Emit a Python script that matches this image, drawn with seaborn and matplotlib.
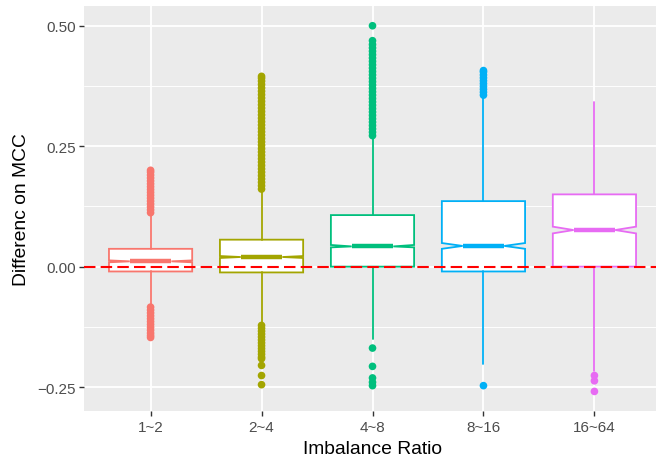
import matplotlib
matplotlib.use("Agg")
import matplotlib.pyplot as plt
import seaborn as sns
import pandas as pd

# categories and colours (ggplot default hue palette)
groups = ["1~2", "2~4", "4~8", "8~16", "16~64"]
colors = ["#F8766D", "#A3A500", "#00BF7D", "#00B0F6", "#E76BF3"]

# box statistics
q1 = [-0.010, -0.012, 0.000, -0.010, 0.000]
med = [0.011, 0.020, 0.042, 0.043, 0.076]
q3 = [0.037, 0.056, 0.107, 0.136, 0.150]
whis_lo = [-0.082, -0.120, -0.150, -0.202, -0.216]
whis_hi = [0.110, 0.160, 0.270, 0.354, 0.341]
notch_lo = [0.009, 0.018, 0.040, 0.037, 0.069]
notch_hi = [0.013, 0.022, 0.045, 0.049, 0.083]

# outliers per group
out_1_2 = [0.112, 0.118, 0.124, 0.130, 0.136, 0.142, 0.148, 0.154, 0.160, 0.166,
           0.172, 0.178, 0.184, 0.190, 0.196, 0.200,
           -0.084, -0.090, -0.096, -0.102, -0.108, -0.114, -0.120, -0.126,
           -0.132, -0.138, -0.143, -0.147]
out_2_4 = [0.161, 0.168, 0.175, 0.182, 0.189, 0.196, 0.203, 0.210, 0.217, 0.224,
           0.231, 0.238, 0.245, 0.252, 0.259, 0.266, 0.273, 0.280, 0.287, 0.294,
           0.301, 0.308, 0.315, 0.322, 0.329, 0.336, 0.343, 0.350, 0.357, 0.364,
           0.371, 0.378, 0.385, 0.391, 0.395,
           -0.122, -0.128, -0.134, -0.140, -0.146, -0.152, -0.158, -0.164,
           -0.170, -0.176, -0.182, -0.188, -0.191, -0.205, -0.226, -0.245]
out_4_8 = [0.272, 0.279, 0.286, 0.293, 0.300, 0.307, 0.314, 0.321, 0.328, 0.335,
           0.342, 0.349, 0.356, 0.363, 0.370, 0.377, 0.384, 0.391, 0.398, 0.405,
           0.412, 0.419, 0.426, 0.433, 0.440, 0.447, 0.454, 0.461, 0.469, 0.500,
           -0.169, -0.207, -0.231, -0.240, -0.247]
out_8_16 = [0.356, 0.362, 0.368, 0.374, 0.380, 0.386, 0.392, 0.398, 0.404, 0.407,
            -0.247]
out_16_64 = [-0.226, -0.237, -0.259]

outlier_lists = [out_1_2, out_2_4, out_4_8, out_8_16, out_16_64]
df = pd.DataFrame({
    "group": [g for g, vals in zip(groups, outlier_lists) for _ in vals],
    "value": [v for vals in outlier_lists for v in vals],
})

sns.set_theme(style="darkgrid", rc={
    "axes.facecolor": "#EBEBEB",
    "grid.color": "white",
    "axes.edgecolor": "none",
})
plt.rcParams["font.family"] = ["Liberation Sans", "DejaVu Sans"]

fig = plt.figure(figsize=(6.56, 4.6), dpi=100)
ax = fig.add_axes([84 / 656, 48.3 / 460, 577 / 656, 404.7 / 460])

sns.stripplot(data=df, x="group", y="value", hue="group", order=groups,
              hue_order=groups, palette=colors, jitter=False, size=5.5,
              linewidth=0, legend=False, ax=ax, zorder=3)

for i, c in enumerate(colors):
    stats = [{
        "med": med[i], "q1": q1[i], "q3": q3[i],
        "whislo": whis_lo[i], "whishi": whis_hi[i],
        "cilo": notch_lo[i], "cihi": notch_hi[i], "fliers": [],
    }]
    ax.bxp(stats, positions=[i], widths=0.75, shownotches=True, showcaps=False,
           showfliers=False, patch_artist=True, manage_ticks=False,
           boxprops=dict(facecolor="white", edgecolor=c, linewidth=1.3),
           whiskerprops=dict(color=c, linewidth=1.3),
           medianprops=dict(color=c, linewidth=3.2, solid_capstyle="butt"),
           zorder=4)

ax.axhline(0, color="red", linewidth=1.5, linestyle=(0, (5.5, 2.5)), zorder=6)

ax.set_xlim(-0.6, 4.6)
ax.set_ylim(-0.299, 0.541)
ax.set_xticks(range(len(groups)))
ax.set_xticklabels(groups)
ax.set_yticks([-0.25, 0.0, 0.25, 0.5])
ax.set_yticklabels(["\u22120.25", "0.00", "0.25", "0.50"])
ax.set_yticks([-0.125, 0.125, 0.375], minor=True)

ax.grid(True, which="major", color="white", linewidth=1.3)
ax.grid(True, which="minor", axis="y", color="white", linewidth=0.65)
ax.set_axisbelow(True)
for s in ax.spines.values():
    s.set_visible(False)

ax.tick_params(axis="both", which="major", length=3.5, width=1.0, color="#333333",
               labelcolor="#4D4D4D", labelsize=11, pad=2.5, bottom=True, left=True)
ax.tick_params(axis="x", which="major", pad=3.5)
ax.tick_params(axis="y", which="minor", length=0, left=False)

ax.set_xlabel("Imbalance Ratio", fontsize=13.9, color="black", labelpad=4)
ax.set_ylabel("Differenc on MCC", fontsize=13.9, color="black", labelpad=5)

fig.savefig("out.png", dpi=100)
